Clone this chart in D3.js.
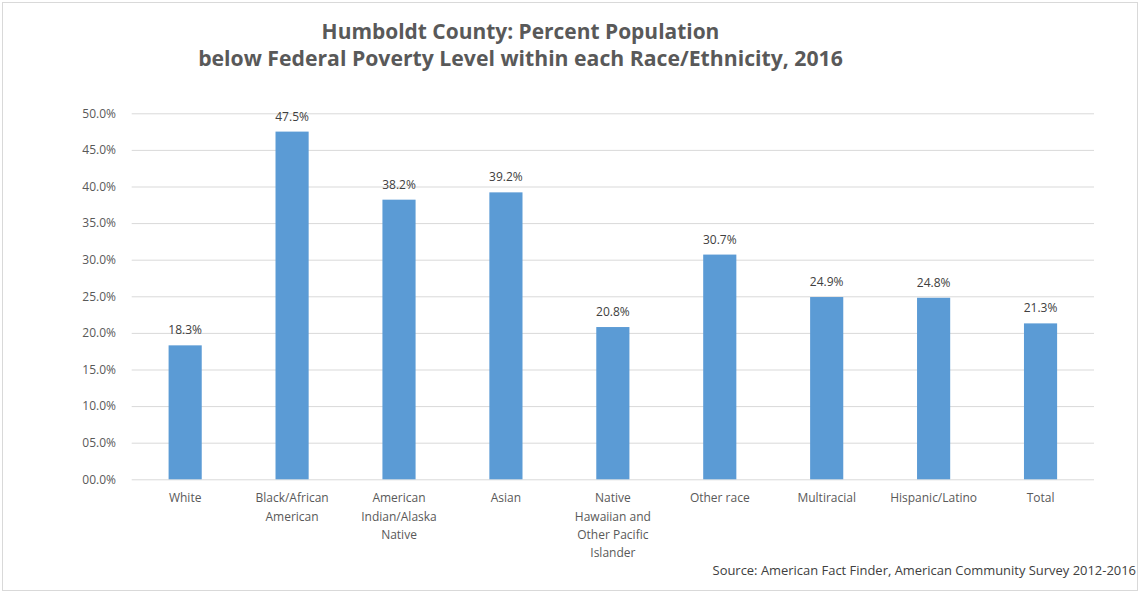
<!DOCTYPE html>
<html>
<head>
<meta charset="utf-8">
<script src="https://cdn.jsdelivr.net/npm/d3@7"></script>
<style>
  html, body { margin: 0; padding: 0; background: #fff; }
  svg { display: block; }
</style>
</head>
<body>
<svg id="chart" width="1141" height="593"></svg>
<script>
const titleLines = ["Humboldt County: Percent Population",
                    "below Federal Poverty Level within each Race/Ethnicity, 2016"];
const categories = ["White", "Black/African\nAmerican", "American\nIndian/Alaska\nNative", "Asian",
                    "Native\nHawaiian and\nOther Pacific\nIslander", "Other race", "Multiracial",
                    "Hispanic/Latino", "Total"];
const values = [18.3, 47.5, 38.2, 39.2, 20.8, 30.7, 24.9, 24.8, 21.3];
const yTicks = [0, 5, 10, 15, 20, 25, 30, 35, 40, 45, 50];
const sourceText = "Source: American Fact Finder, American Community Survey 2012-2016";

const svg = d3.select("#chart");
const FONT = "'Open Sans', sans-serif";

const plot = { left: 131.7, right: 1094, top: 113.3, bottom: 479.3 };

// outer border
svg.append("rect").attr("x", 2.5).attr("y", 2.5).attr("width", 1135).attr("height", 588)
  .attr("fill", "#fff").attr("stroke", "#D9D9D9").attr("stroke-width", 1);

function fitWidth(sel, target) {
  const node = sel.node();
  const fs = parseFloat(sel.attr("font-size"));
  const w = node.getComputedTextLength();
  if (w > 0) sel.attr("font-size", (fs * target / w).toFixed(2));
}

// title
const t1 = svg.append("text").attr("x", 520.5).attr("y", 38.5).attr("text-anchor", "middle")
  .attr("font-family", FONT).attr("font-weight", "bold").attr("font-size", 18)
  .attr("fill", "#595959").text(titleLines[0]);
fitWidth(t1, 398);
const t2 = svg.append("text").attr("x", 520.5).attr("y", 65.5).attr("text-anchor", "middle")
  .attr("font-family", FONT).attr("font-weight", "bold").attr("font-size", 18)
  .attr("fill", "#595959").text(titleLines[1]);
fitWidth(t2, 645);

const x = d3.scaleBand().domain(categories).range([plot.left, plot.right])
  .paddingInner(0.69).paddingOuter(0.345);
const y = d3.scaleLinear().domain([0, 50]).range([plot.bottom, plot.top]);

// gridlines + y labels via axis
const yAxis = d3.axisLeft(y).tickValues(yTicks)
  .tickSize(-(plot.right - plot.left))
  .tickPadding(15.7)
  .tickFormat(d => d3.format("04.1f")(d) + "%");
const gy = svg.append("g").attr("transform", `translate(${plot.left},0)`).call(yAxis);
gy.select(".domain").remove();
gy.selectAll(".tick line").attr("stroke", "#D9D9D9").attr("stroke-width", 1);
gy.selectAll(".tick text").attr("font-family", FONT).attr("font-size", 12)
  .attr("fill", "#595959");

// bars
svg.append("g").selectAll("rect").data(values).join("rect")
  .attr("x", (d, i) => x(categories[i]))
  .attr("width", x.bandwidth())
  .attr("y", d => y(d))
  .attr("height", d => y(0) - y(d))
  .attr("fill", "#5B9BD5");

// value labels
svg.append("g").selectAll("text").data(values).join("text")
  .attr("x", (d, i) => x(categories[i]) + x.bandwidth() / 2)
  .attr("y", d => y(d) - 11)
  .attr("text-anchor", "middle")
  .attr("font-family", FONT).attr("font-size", 12)
  .attr("fill", "#404040")
  .text(d => d.toFixed(1) + "%");

// x axis category labels
const xAxis = d3.axisBottom(x).tickSize(0).tickPadding(0).tickFormat("");
const gx = svg.append("g").attr("transform", `translate(0,${plot.bottom})`).call(xAxis);
gx.select(".domain").remove();
gx.selectAll(".tick").each(function(d) {
  const lines = d.split("\n");
  const t = d3.select(this).append("text")
    .attr("text-anchor", "middle")
    .attr("font-family", FONT).attr("font-size", 12)
    .attr("fill", "#595959");
  lines.forEach((ln, i) => {
    t.append("tspan").attr("x", 0).attr("y", 23 + i * 18.4).text(ln);
  });
});

// source
const src = svg.append("text").attr("x", 1136).attr("y", 575).attr("text-anchor", "end")
  .attr("font-family", FONT).attr("font-size", 11).attr("fill", "#404040")
  .text(sourceText);
fitWidth(src, 424);
</script>
</body>
</html>
